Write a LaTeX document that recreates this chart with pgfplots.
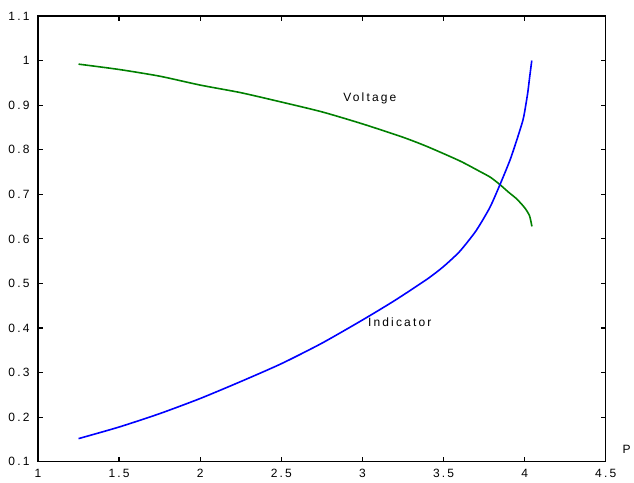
\documentclass[border=0pt]{standalone}
\usepackage{pgfplots}
\pgfplotsset{compat=1.18}
\usepackage{fontspec}
\setmainfont{Liberation Sans}
\newfontfamily\spaced[LetterSpace=18]{Liberation Sans}
\newcommand\lbl{\fontsize{12}{14}\spaced}
\begin{document}
\begin{tikzpicture}
\begin{axis}[
  scale only axis, width=568pt, height=446pt,
  xmin=1, xmax=4.5, ymin=0.1, ymax=1.1,
  xtick={1,1.5,2,2.5,3,3.5,4,4.5},
  ytick={0.1,0.2,0.3,0.4,0.5,0.6,0.7,0.8,0.9,1,1.1},
  tick align=inside, major tick length=5pt,
  axis line style={line width=1.4pt},
  every tick/.style={black, line width=1.2pt},
  tick label style={font=\lbl},
  /pgf/number format/assume math mode=true,
  xticklabel style={yshift=-4pt},
  yticklabel style={xshift=-5pt},
  clip=false,
]
\addplot[color={rgb,255:red,0;green,128;blue,0}, line width=1.6pt, mark=none, smooth, tension=0.4] coordinates {
(1.25,0.992) (1.5,0.98) (1.75,0.965) (2.0,0.945) (2.25,0.928) (2.5,0.907)
(2.75,0.885) (3.0,0.858) (3.25,0.828) (3.4,0.807) (3.6,0.775) (3.72,0.752)
(3.79,0.738) (3.85,0.721) (3.9,0.705) (3.95,0.69) (4.0,0.67) (4.03,0.652) (4.045,0.628)
};
\addplot[color={rgb,255:red,0;green,0;blue,255}, line width=1.6pt, mark=none, smooth, tension=0.4] coordinates {
(1.25,0.152) (1.5,0.178) (1.75,0.208) (2.0,0.242) (2.25,0.28) (2.5,0.32)
(2.75,0.366) (3.0,0.418) (3.2,0.462) (3.4,0.51) (3.5,0.538) (3.6,0.572) (3.7,0.618) (3.785,0.67)
(3.846,0.72) (3.908,0.775) (3.95,0.82) (3.99,0.867) (4.007,0.9) (4.02,0.93)
(4.03,0.96) (4.044,1.0)
};
\node[font=\lbl] at (axis cs:3.046,0.916) {Voltage};
\node[font=\lbl] at (axis cs:3.23,0.414) {Indicator};
\node[font=\lbl] at (axis cs:4.629,0.127) {P};
\path (rel axis cs:0,0) ++(-38pt,-21pt) coordinate (bbA);
\path (rel axis cs:1,1) ++(28pt,16pt) coordinate (bbB);
\end{axis}
\useasboundingbox (bbA) rectangle (bbB);
\end{tikzpicture}
\end{document}
